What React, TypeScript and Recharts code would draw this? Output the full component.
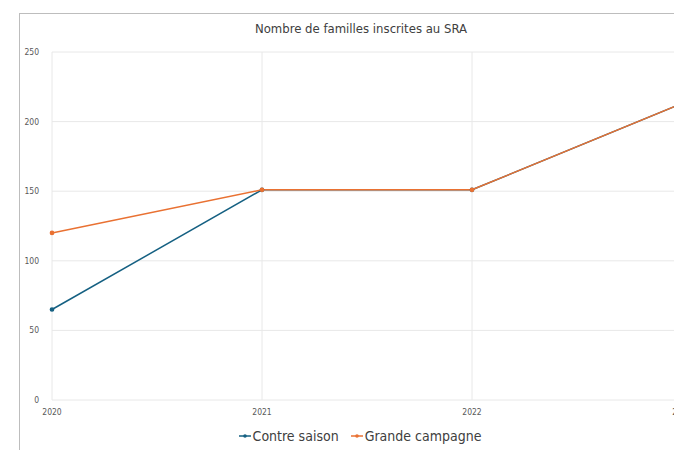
import React from 'react';
import {CartesianGrid, Legend, Line, LineChart, XAxis, YAxis} from 'recharts';

const years = ['2020', '2021', '2022', '2023'];
const contreSaison = [65, 151, 151, 213];
const grandeCampagne = [120, 151, 151, 213];
const yTicks = [0, 50, 100, 150, 200, 250];

const data = years.map((year, i) => ({
    year,
    contre: contreSaison[i],
    grande: grandeCampagne[i],
}));

const FONT = "'DejaVu Sans Condensed', 'Roboto', sans-serif";

// legend like excel: short line with a dot in the middle
function renderLegend(props: any) {
    const items = props.payload || [];
    return (
        <div style={{display: 'flex', justifyContent: 'center', gap: 12, fontSize: 14, color: '#404040', fontFamily: FONT}}>
            {items.map((item: any) => (
                <span key={item.value} style={{display: 'flex', alignItems: 'center'}}>
                    <svg width={12} height={8} style={{marginRight: 2}}>
                        <line x1={0} y1={4} x2={12} y2={4} stroke={item.color} strokeWidth={1.5} />
                        <circle cx={6} cy={4} r={1.8} fill={item.color} />
                    </svg>
                    {item.value}
                </span>
            ))}
        </div>
    );
}

export default function App() {
    return (
        <div style={{position: 'fixed', left: 0, top: 0, width: 674, height: 450, overflow: 'hidden', background: '#fff', fontFamily: FONT}}>
            <div style={{position: 'absolute', left: 19, top: 13, width: 720, height: 500, border: '1px solid #bdbdbd'}} />
            <div style={{position: 'absolute', left: 0, width: 722, top: 21, textAlign: 'center', fontSize: 13, color: '#404040'}}>
                Nombre de familles inscrites au SRA
            </div>
            <div style={{position: 'absolute', left: 0, top: 0}}>
                <LineChart
                    width={682}
                    height={450}
                    data={data}
                    margin={{top: 52, right: 0, left: 12, bottom: 30}}
                >
                    <CartesianGrid stroke="#e8e8e8" />
                    <XAxis
                        dataKey="year"
                        axisLine={false}
                        tickLine={false}
                        tickSize={0}
                        tickMargin={9}
                        height={20}
                        interval={0}
                        tick={{fontSize: 8.5, fill: '#595959', fontFamily: FONT}}
                    />
                    <YAxis
                        width={40}
                        domain={[0, 250]}
                        ticks={yTicks}
                        axisLine={false}
                        tickLine={false}
                        tickSize={0}
                        tickMargin={13}
                        tick={{fontSize: 8.5, fill: '#595959', fontFamily: FONT}}
                    />
                    <Legend
                        layout="horizontal"
                        verticalAlign="middle"
                        align="center"
                        content={renderLegend}
                        wrapperStyle={{top: 428, left: 0, width: 720}}
                    />
                    <Line
                        name="Contre saison"
                        dataKey="contre"
                        stroke="#156082"
                        strokeWidth={1.5}
                        dot={{r: 1.6, fill: '#156082', stroke: '#156082'}}
                        isAnimationActive={false}
                    />
                    <Line
                        name="Grande campagne"
                        dataKey="grande"
                        stroke="#E97132"
                        strokeWidth={1.5}
                        dot={{r: 1.6, fill: '#E97132', stroke: '#E97132'}}
                        isAnimationActive={false}
                    />
                </LineChart>
            </div>
        </div>
    );
}
